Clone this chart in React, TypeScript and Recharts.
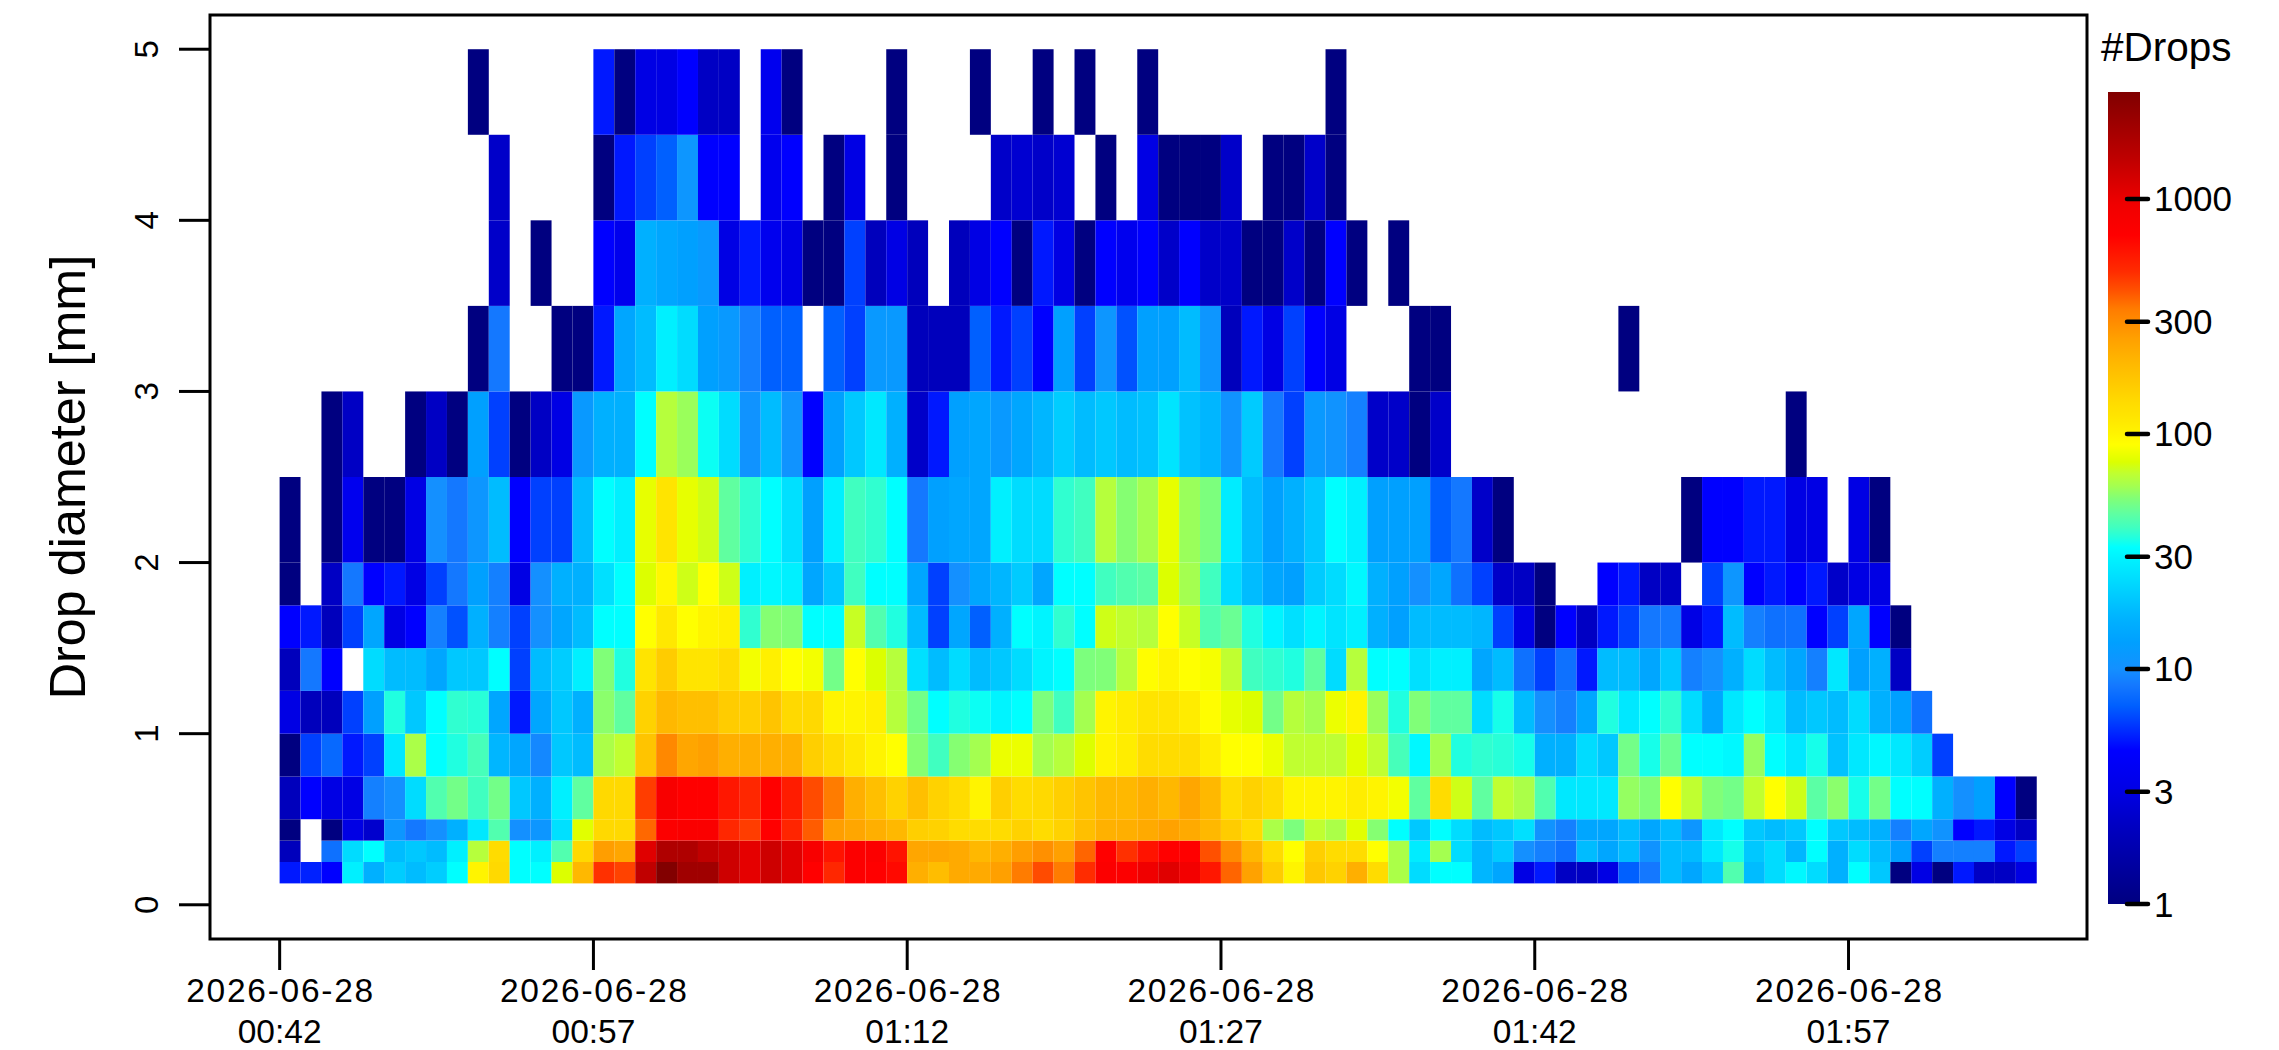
import React from "react";
import { ComposedChart, Bar, XAxis, YAxis, ReferenceArea } from "recharts";

const n = null;

// Drop counts per diameter bin; each list has one value per minute starting at 00:42.
const d450 = [
  n,n,n,n,n,n,n,n,n,1, n,n,n,n,n,5,1,3,3,4.5, 2.2,2.2,n,3.5,1,n,n,n,n,1,
  n,n,n,1,n,n,1,n,1,n, n,1,n,n,n,n,n,n,n,n, 1,n,n,n,n,n,n,n,n,n,
  n,n,n,n,n,n,n,n,n,n, n,n,n,n,n,n,n,n,n,n, n,n,n,n];
const d400 = [
  n,n,n,n,n,n,n,n,n,n, 2.3,n,n,n,n,1,5,6,7,11, 4.5,4.5,n,3.5,4.5,n,1,3,n,1,
  n,n,n,n,2.3,2.5,2.3,2.5,n,1, n,3,1,1,1,2.3,n,1,1,2.3, 1,n,n,n,n,n,n,n,n,n,
  n,n,n,n,n,n,n,n,n,n, n,n,n,n,n,n,n,n,n,n, n,n,n,n];
const d350 = [
  n,n,n,n,n,n,n,n,n,n, 2.3,n,1,n,n,4.5,3.5,16,14,13, 11.5,3,5,3.5,3,1,1,6,2,3,
  2,n,2,3,4.5,1,5,3,1,4.5, 3.5,4.5,2.3,4.5,2.3,2.3,1,1,2.3,1, 4.5,1,n,1,n,n,n,n,n,n,
  n,n,n,n,n,n,n,n,n,n, n,n,n,n,n,n,n,n,n,n, n,n,n,n];
const d300 = [
  n,n,n,n,n,n,n,n,n,1, 8.5,n,n,1,1,5,14,18,29,24, 13,11.5,9,7,7,n,7,6,11.5,11.5,
  2,2,2,7,5,6,4.5,13,6,11, 6.5,13,13,18,11,2,5,3,6,4.5, 3,n,n,n,1,1,n,n,n,n,
  n,n,n,n,1,n,n,n,n,n, n,n,n,n,n,n,n,n,n,n, n,n,n,n];
const d250 = [
  n,n,1,2.2,n,n,1,2.2,1,13, 6,1,2.2,3,11.5,16,16,33,65,58, 34,24,10.5,18,10.5,4.5,13,20,27,16,
  2.3,5,13,14,11.5,14,17,21,18,20, 18,19,26,19,17,10.5,20.5,8.5,6,11.5, 10.5,9,2.3,2.3,1,2.3,n,n,n,n,
  n,n,n,n,n,n,n,n,n,n, n,n,1,n,n,n,n,n,n,n, n,n,n,n];
const d200 = [
  1,n,1,3.5,1,1,3,10,8.5,11, 18,4.5,6,6,18,33,29,80,120,80, 72,46,38,33,25,13,29,40,38,33,
  8.5,13,14,14,29,24,24,38,40,65, 54,60,80,58,52,28,18,13,16,20, 33,29,13,13,13,7,8.5,2.3,1,n,
  n,n,n,n,n,n,n,1,4.5,4.5, 5,5,3,3,n,3,1,n,n,n, n,n,n,n];
const d175 = [
  1,n,2.2,8.5,4.5,5,3,6,8.5,13, 9,3,10,16,16,25,33,76,97,72, 90,72,29,31,29,14,20,40,33,33,
  14,6,10,14,17,20.5,14,33,33,40, 43,45,76,60,40,24,18,14,13,20.5, 24,31,16,13,10,14,8,6,2.3,2.2,
  1,n,n,4.5,5,2.2,2.2,n,6,11, 4.5,5,4.5,5,2.3,3,3,n,n,n, n,n,n,n];
const d150 = [
  4.5,5,2,6,14,3,4.5,9,6.5,16, 9,6,10,14,18,33,33,90,115,90, 100,105,38,54,53,33,33,70,43,36,
  18,6,14,7,16,33,30,38,33,72, 68,65,90,70,43,48,36,30,25,30, 26,29,16,13,18,18,18,17,6,3,
  1,4.5,2.2,5,6,8.5,8.5,3,5,18, 9,8,8,4.5,6,14,4.5,1,n,n, n,n,n,n];
const d125 = [
  2,8.5,4.5,n,24,18,18,14,20,20, 33,6,18,21,29,53,36,120,160,120, 120,135,85,105,90,85,50,90,76,65,
  25,18,24,18,20,24,30,33,52,53, 65,92,100,90,86,68,40,38,36,46, 24,65,33,33,25,29,29,14,18,8,
  6,8,5,18,18,14,20,9,10,16, 24,18,14,9,27,13,16,2.2,n,n, n,n,n,n];
const d100 = [
  3,2,2,6,13,36,20,33,38,37, 14,5,14,20,16,55,46,150,200,185, 185,160,155,175,140,140,100,100,105,65,
  50,33,36,34,30,33,52,40,60,100, 110,120,120,110,92,80,76,50,65,60, 82,100,58,36,53,46,46,24,35,18,
  10,9,14,36,27,33,38,24,14,27, 33,27,18,20,18,24,16,13,8,n, n,n,n,n];
const d075 = [
  1,6,7.5,5,6,27,62,33,36,41, 17,14,9.5,20,18,62,68,175,310,240, 255,220,220,220,215,155,135,115,100,90,
  54,40,54,60,82,82,60,65,76,100, 108,135,135,135,108,90,90,82,68,68, 67,78,68,41,31,60,36,38,37,35,
  16,16,24,20,50,35,48,33,33,31, 57,33,27,35,19,27,31,27,21,6, n,n,n,n];
const d050 = [
  2,4.5,3,3,9,10,24,43,50,40, 50,20,16,29,46,140,140,450,800,700, 700,580,510,700,560,420,340,220,185,150,
  185,150,135,100,155,135,140,155,175,200, 200,220,200,240,200,135,150,135,100,100, 100,108,100,85,46,135,72,46,68,62,
  43,27,27,27,57,53,90,68,53,50, 68,90,72,45,55,35,50,33,33,16, 10,13,4.5,1];
const d0375 = [
  1,n,1,3,2.4,11,8.5,10,16,27, 43,10,11,25,78,140,140,370,750,770, 770,510,450,700,520,390,260,240,220,200,
  155,150,135,135,135,150,135,150,185,215, 220,230,250,230,200,160,135,62,52,68, 62,78,54,33,20,33,24,18,20,25,
  10.5,9,14,14,18,14,18,11,27,33, 20,18,20,33,20,18,16,9,14,10.5, 4.5,5,3,2.2];
const d025 = [
  2,n,8,24,33,18,20,18,29,65, 135,33,29,43,140,260,240,1100,1750,1750, 1450,1300,1050,1300,1100,800,600,750,750,600,
  240,240,230,200,220,260,290,255,375,700, 480,600,700,700,410,300,200,135,90,155, 135,135,90,62,28,60,24,17,20.5,10,
  9,8,18,14,18,10.5,18,18,27,35, 20,24,17,33,16,24,18,13,6,9, 9,9,5,6];
const d0125 = [
  5,5.2,4.5,29,16,21,18,21,33,100, 140,33,33,76,200,480,440,1466,2800,2040, 2040,1300,1050,1300,1100,700,510,750,700,650,
  220,190,230,230,255,340,420,340,490,750, 750,950,1100,900,580,375,250,160,100,170, 150,220,135,62,24,33,33,17,14,3,
  5,2.2,2.2,3,7,8.5,18,14,20,43, 18,24,31,24,16,33,20,1,3,1, 5,2.2,2.2,3];

const binEdges = [0.125, 0.25, 0.375, 0.5, 0.75, 1, 1.25, 1.5, 1.75, 2, 2.5, 3, 3.5, 4, 4.5, 5];
const binSeries = [d0125, d025, d0375, d050, d075, d100, d125, d150, d175, d200, d250, d300, d350, d400, d450];

const yTicks = [0, 1, 2, 3, 4, 5];
const xTicks = [0, 15, 30, 45, 60, 75];
const xTickDates = ["2026-06-28", "2026-06-28", "2026-06-28", "2026-06-28", "2026-06-28", "2026-06-28"];
const xTickTimes = ["00:42", "00:57", "01:12", "01:27", "01:42", "01:57"];
const legendTicks = [1, 3, 10, 30, 100, 300, 1000];
const legendTop = 2850;

const paletteValues = [1, 2.2, 3, 4.5, 5, 6, 7, 8.5, 10, 13, 16, 18, 20, 24, 29, 33, 36, 40, 46, 53, 60, 68, 76, 90, 100, 120, 135, 160, 200, 255, 340, 410, 490, 700, 950, 1100, 1466, 2040, 2850];
const paletteColors = ["#000080", "#0000C4", "#0000E4", "#0000FF", "#0018FF", "#0040FF", "#0060FF", "#1478FF", "#1490FF", "#00A0FF", "#00B0FF", "#00BCFF", "#00C8FF", "#00DCFF", "#00F0FF", "#00FFFF", "#20FFE0", "#40FFC0", "#60FFA0", "#80FF78", "#A4FF50", "#C0FF30", "#DCFF00", "#FFFF00", "#FFF400", "#FFE400", "#FFDC00", "#FFCC00", "#FFB800", "#FFA000", "#FF7C00", "#FF5000", "#FF2C00", "#FF0000", "#F00000", "#E00000", "#C00000", "#A00000", "#800000"];

function hexToRgb(h: string) {
  return [parseInt(h.slice(1, 3), 16), parseInt(h.slice(3, 5), 16), parseInt(h.slice(5, 7), 16)];
}
function colorOf(v: number) {
  const last = paletteValues.length - 1;
  if (v <= paletteValues[0]) return paletteColors[0];
  if (v >= paletteValues[last]) return paletteColors[last];
  let i = 0;
  while (paletteValues[i + 1] < v) i++;
  const t = (Math.log10(v) - Math.log10(paletteValues[i])) / (Math.log10(paletteValues[i + 1]) - Math.log10(paletteValues[i]));
  const a = hexToRgb(paletteColors[i]);
  const b = hexToRgb(paletteColors[i + 1]);
  return `rgb(${a.map((c, k) => Math.round(c + (b[k] - c) * t)).join(",")})`;
}

const rows = binSeries[0].map((_, i) => {
  const rec: Record<string, number> = { minute: i + 0.5, base: binEdges[0] };
  binSeries.forEach((_s, r) => {
    rec[`bin${r}`] = binEdges[r + 1] - binEdges[r];
  });
  return rec;
});

const FONT = "'Liberation Sans', Arial, sans-serif";
const LINE = 3;
const CELL_W = 20.92;

function XTick(props: any) {
  const { x, index } = props;
  return (
    <g>
      <text x={x} y={1002} textAnchor="middle" fontFamily={FONT} fontSize={33.5} fill="#000" textLength={187} lengthAdjust="spacing">
        {xTickDates[index]}
      </text>
      <text x={x} y={1042.5} textAnchor="middle" fontFamily={FONT} fontSize={33.5} fill="#000">
        {xTickTimes[index]}
      </text>
    </g>
  );
}

function YTick(props: any) {
  const { y, payload } = props;
  return (
    <text x={0} y={0} transform={`translate(158 ${y}) rotate(-90)`} textAnchor="middle" fontFamily={FONT} fontSize={33} fill="#000">
      {payload.value}
    </text>
  );
}

function LegendTick(props: any) {
  const { y, payload } = props;
  return (
    <g>
      <line x1={2127} x2={2148} y1={y} y2={y} stroke="#000" strokeWidth={4.5} strokeLinecap="round" />
      <text x={2154} y={y + 12.5} fontFamily={FONT} fontSize={35} fill="#000">
        {Math.round(Math.pow(10, payload.value))}
      </text>
    </g>
  );
}

// Fills the full width of one minute around the bar's centre, coloured by the bin's count.
function makeCellShape(values: (number | null)[]) {
  return function CellShape(p: any) {
    const v = values[p.index];
    if (v == null) return <g />;
    const centre = p.x + p.width / 2;
    return <rect x={centre - CELL_W / 2} y={p.y} width={CELL_W} height={p.height} fill={colorOf(v)} />;
  };
}

const legendRows = [{ name: "#Drops", top: Math.log10(legendTop) }];

export default function App() {
  return (
    <div style={{ position: "absolute", left: 0, top: 0, width: 2279, height: 1050, background: "#fff" }}>
      <div style={{ position: "absolute", left: 0, top: 0 }}>
        <ComposedChart width={2279} height={1050} data={rows} margin={{ top: 15, right: 192, bottom: 0, left: 0 }} barCategoryGap={0} barGap={0}>
          <XAxis
            dataKey="minute"
            type="number"
            domain={[-3.33, 86.4]}
            ticks={xTicks}
            height={111}
            axisLine={false}
            tickSize={31}
            tickLine={{ stroke: "#000", strokeWidth: LINE }}
            interval={0}
            tick={<XTick />}
            allowDataOverflow
          />
          <YAxis
            type="number"
            domain={[-0.2, 5.2]}
            ticks={yTicks}
            width={210}
            axisLine={false}
            tickSize={31}
            tickLine={{ stroke: "#000", strokeWidth: LINE }}
            interval={0}
            tick={<YTick />}
            allowDataOverflow
            label={{
              value: "Drop diameter [mm]",
              content: () => (
                <text transform="translate(85 477) rotate(-90)" textAnchor="middle" fontFamily={FONT} fontSize={50.3} fill="#000">
                  Drop diameter [mm]
                </text>
              ),
            }}
          />
          <Bar dataKey="base" stackId="cells" barSize={CELL_W} fill="none" isAnimationActive={false} />
          {binSeries.map((values, r) => (
            <Bar key={r} dataKey={`bin${r}`} stackId="cells" barSize={CELL_W} isAnimationActive={false} shape={makeCellShape(values)} />
          ))}
          <ReferenceArea x1={-3.33} x2={86.4} y1={-0.2} y2={5.2} fill="none" stroke="#000" strokeWidth={LINE} ifOverflow="visible" />
        </ComposedChart>
      </div>
      <div style={{ position: "absolute", left: 0, top: 0 }}>
        <ComposedChart width={2279} height={1050} data={legendRows} margin={{ top: 92, right: 0, bottom: 146, left: 2108 }} barCategoryGap={0}>
          <defs>
            <linearGradient id="dropsRamp" x1="0" y1="1" x2="0" y2="0">
              {paletteValues.map((v, i) => (
                <stop key={i} offset={Math.min(1, Math.log10(v) / Math.log10(legendTop))} stopColor={paletteColors[i]} />
              ))}
            </linearGradient>
          </defs>
          <XAxis dataKey="name" type="category" hide />
          <YAxis
            orientation="right"
            type="number"
            domain={[0, Math.log10(legendTop)]}
            ticks={legendTicks.map((t) => Math.log10(t))}
            width={139}
            axisLine={false}
            tickLine={false}
            interval={0}
            tick={<LegendTick />}
            allowDataOverflow
          />
          <Bar dataKey="top" fill="url(#dropsRamp)" isAnimationActive={false} />
        </ComposedChart>
      </div>
      <svg width={2279} height={1050} style={{ position: "absolute", left: 0, top: 0, pointerEvents: "none" }}>
        <text x={2101} y={61} fontFamily={FONT} fontSize={40.5} fill="#000">#Drops</text>
      </svg>
    </div>
  );
}
